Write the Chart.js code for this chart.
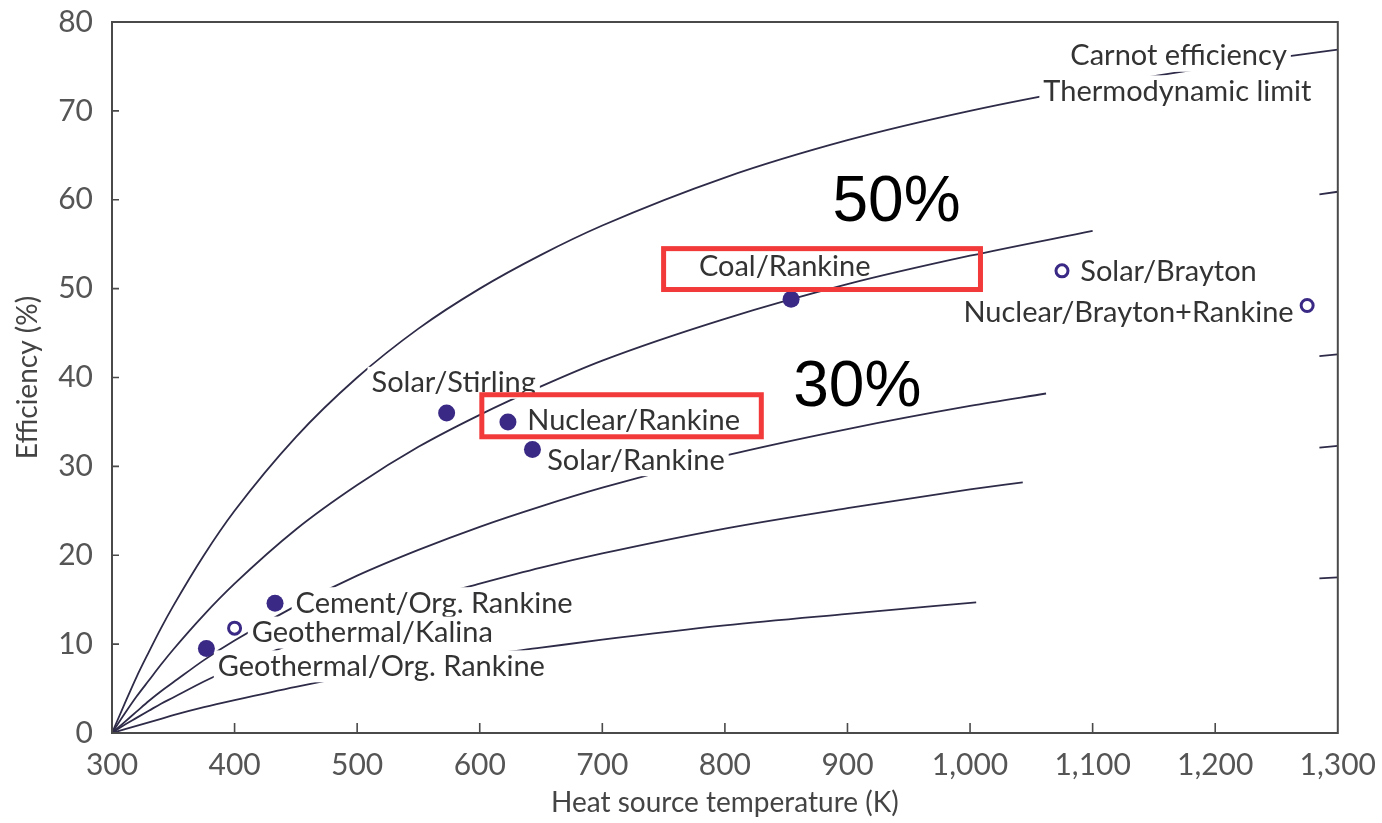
<!DOCTYPE html>
<html>
<head>
<meta charset="utf-8">
<script src="https://cdn.jsdelivr.net/npm/chart.js@4.4.1/dist/chart.umd.min.js"></script>
<style>
  html, body { margin: 0; padding: 0; background: #fff; }
  #wrap { width: 1382px; height: 823px; }
</style>
</head>
<body>
<div id="wrap"><canvas id="efficiencyChart" width="1382" height="823"></canvas></div>
<script>
// Conversion efficiency vs heat source temperature (sink at 300 K)

// Carnot efficiency curve
const carnotTemp = [300, 310, 320, 330, 340, 350, 375, 400, 450, 500, 550, 600, 650, 700, 800, 900, 1000, 1100, 1200, 1300]
const carnotEff = [0, 3.2, 6.3, 9.1, 11.8, 14.3, 20.0, 25.0, 33.3, 40.0, 45.5, 50.0, 53.8, 57.1, 62.5, 66.7, 70.0, 72.7, 75.0, 76.9]

// lower curves (each one stops before the right frame)
const upperTemp = [300, 310, 320, 330, 340, 350, 375, 400, 450, 500, 550, 600, 650, 700, 800, 900, 1000, 1100]
const upperEff = [0, 2.1, 4.1, 5.9, 7.7, 9.4, 13.3, 16.8, 22.9, 27.9, 32.2, 35.8, 39.0, 41.9, 46.6, 50.5, 53.7, 56.5]
const midTemp = [300, 310, 320, 330, 340, 350, 375, 400, 450, 500, 550, 600, 650, 700, 800, 900, 1000, 1062]
const midEff = [0, 1.2, 2.4, 3.6, 4.7, 5.7, 8.2, 10.4, 14.3, 17.7, 20.6, 23.2, 25.5, 27.6, 31.2, 34.2, 36.8, 38.2]
const lowTemp = [300, 310, 320, 330, 340, 350, 375, 400, 450, 500, 550, 600, 650, 700, 800, 900, 1000, 1043]
const lowEff = [0, 0.9, 1.7, 2.5, 3.3, 4.0, 5.8, 7.4, 10.2, 12.7, 14.9, 16.8, 18.6, 20.2, 23.0, 25.3, 27.4, 28.2]
const bottomTemp = [300, 310, 320, 330, 340, 350, 375, 400, 450, 500, 550, 600, 650, 700, 800, 900, 1005]
const bottomEff = [0, 0.4, 0.8, 1.2, 1.6, 2.0, 2.9, 3.7, 5.2, 6.5, 7.6, 8.7, 9.6, 10.5, 12.1, 13.4, 14.7]

// short pieces of the same curves where they meet the right frame
const edgeTemp = [1285, 1300]
const upperEdge = [60.6, 60.9]
const midEdge = [42.4, 42.6]
const lowEdge = [32.1, 32.3]
const bottomEdge = [17.4, 17.5]

// plants
const plantNames = ['Geothermal/Org. Rankine', 'Geothermal/Kalina', 'Cement/Org. Rankine', 'Solar/Stirling', 'Nuclear/Rankine', 'Solar/Rankine', 'Coal/Rankine', 'Solar/Brayton', 'Nuclear/Brayton+Rankine']
const plantTemp = [377, 400, 433, 573, 623, 643, 854, 1075, 1275]
const plantEff = [9.5, 11.8, 14.6, 36.0, 35.0, 31.9, 48.8, 52.0, 48.1]
const plantOpen = [false, true, false, false, false, false, false, true, true]

const xTicks = [300, 400, 500, 600, 700, 800, 900, 1000, 1100, 1200, 1300]
const yTicks = [0, 10, 20, 30, 40, 50, 60, 70, 80]

const purple = '#3b2a85'
const curveColor = '#2e2b48'

// text labels (data coords: left edge of text, vertical middle)
const curveLabels = [
  { text: 'Carnot efficiency', x: 1081.8, y: 76.2 },
  { text: 'Thermodynamic limit', x: 1059.8, y: 72.2 },
  { text: 'Coal/Rankine', x: 778.8, y: 52.5, noClear: true },
  { text: 'Solar/Brayton', x: 1089.9, y: 51.9 },
  { text: 'Nuclear/Brayton+Rankine', x: 994.6, y: 47.3 },
  { text: 'Solar/Stirling', x: 511.7, y: 39.4 },
  { text: 'Nuclear/Rankine', x: 638.8, y: 35.1 },
  { text: 'Solar/Rankine', x: 655.0, y: 30.7 },
  { text: 'Cement/Org. Rankine', x: 449.8, y: 14.6 },
  { text: 'Geothermal/Kalina', x: 414.0, y: 11.3 },
  { text: 'Geothermal/Org. Rankine', x: 386.3, y: 7.5 }
]

// red markup added on top of the figure
const notes = [
  { text: '50%', x: 940, y: 59.6 },
  { text: '30%', x: 908, y: 38.8 }
]
const noteBoxes = [
  { x0: 750, x1: 1008.5, y0: 54.5, y1: 49.9 },
  { x0: 601.7, x1: 829.7, y0: 38.06, y1: 33.33 }
]

function toPoints (temps, effs) {
  return temps.map((t, i) => ({ x: t, y: effs[i] }))
}

function withEdge (temps, effs, edge) {
  return toPoints(temps, effs).concat([{ x: 1200, y: null }], toPoints(edgeTemp, edge))
}

function curve (data) {
  return {
    data: data,
    showLine: true,
    borderColor: curveColor,
    borderWidth: 1.8,
    pointRadius: 0,
    cubicInterpolationMode: 'monotone',
    spanGaps: false,
    fill: false
  }
}

const labelFont = '29px Lato'

const decorations = {
  id: 'decorations',
  beforeDatasetDraw (chart, args) {
    // labels go under the plant markers but over the curves
    if (args.index !== 0) return
    const { ctx, scales: { x, y } } = chart
    ctx.save()
    ctx.font = labelFont
    ctx.textBaseline = 'middle'
    ctx.textAlign = 'left'
    curveLabels.forEach(l => {
      const px = x.getPixelForValue(l.x)
      const py = y.getPixelForValue(l.y)
      const w = ctx.measureText(l.text).width
      if (!l.noClear) {
        ctx.fillStyle = '#fff'
        ctx.fillRect(px - 4, py - 16, w + 8, 32)
      }
      ctx.fillStyle = '#333'
      ctx.fillText(l.text, px, py)
    })
    ctx.restore()
  },
  afterDraw (chart) {
    const { ctx, chartArea: a, scales: { x, y } } = chart
    ctx.save()
    ctx.strokeStyle = '#4a4a4a'
    ctx.lineWidth = 2
    ctx.strokeRect(a.left, a.top, a.right - a.left, a.bottom - a.top)
    ctx.lineWidth = 1.6
    ctx.beginPath()
    xTicks.slice(1, -1).forEach(v => {
      const px = x.getPixelForValue(v)
      ctx.moveTo(px, a.bottom)
      ctx.lineTo(px, a.bottom - 10)
    })
    yTicks.slice(1, -1).forEach(v => {
      const py = y.getPixelForValue(v)
      ctx.moveTo(a.left, py)
      ctx.lineTo(a.left + 7, py)
    })
    ctx.stroke()

    ctx.strokeStyle = '#f23a3a'
    ctx.lineWidth = 5
    noteBoxes.forEach(b => {
      const x0 = x.getPixelForValue(b.x0)
      const x1 = x.getPixelForValue(b.x1)
      const y0 = y.getPixelForValue(b.y0)
      const y1 = y.getPixelForValue(b.y1)
      ctx.strokeRect(x0, y0, x1 - x0, y1 - y0)
    })
    ctx.fillStyle = '#000'
    ctx.font = '64px "Liberation Sans"'
    ctx.textAlign = 'center'
    ctx.textBaseline = 'middle'
    notes.forEach(n => {
      ctx.fillText(n.text, x.getPixelForValue(n.x), y.getPixelForValue(n.y))
    })
    ctx.restore()
  }
}

const plantData = plantTemp.map((t, i) => ({ x: t, y: plantEff[i], name: plantNames[i] }))

new Chart(document.getElementById('efficiencyChart'), {
  type: 'scatter',
  data: {
    datasets: [
      {
        label: 'Plants',
        data: plantData,
        pointRadius: c => plantOpen[c.dataIndex] ? 6 : 8.5,
        pointBackgroundColor: c => plantOpen[c.dataIndex] ? '#fff' : purple,
        pointBorderColor: purple,
        pointBorderWidth: c => plantOpen[c.dataIndex] ? 3 : 0,
        showLine: false
      },
      curve(toPoints(carnotTemp, carnotEff)),
      curve(withEdge(upperTemp, upperEff, upperEdge)),
      curve(withEdge(midTemp, midEff, midEdge)),
      curve(withEdge(lowTemp, lowEff, lowEdge)),
      curve(withEdge(bottomTemp, bottomEff, bottomEdge))
    ]
  },
  options: {
    responsive: false,
    animation: false,
    devicePixelRatio: 1,
    layout: { padding: { left: 0, top: 22, right: 42, bottom: 0 } },
    plugins: { legend: { display: false }, tooltip: { enabled: false } },
    scales: {
      x: {
        type: 'linear',
        min: 300,
        max: 1300,
        afterBuildTicks: s => { s.ticks = xTicks.map(v => ({ value: v })) },
        afterFit: s => { s.height = 90 },
        grid: { display: false },
        border: { display: false },
        ticks: {
          padding: 6,
          color: '#555',
          font: { family: 'Lato', size: 30 },
          maxRotation: 0,
          callback: v => v.toLocaleString('en-US')
        },
        title: {
          display: true,
          text: 'Heat source temperature (K)',
          color: '#444',
          font: { family: 'Lato', size: 28 },
          padding: { top: 0, bottom: 3 }
        }
      },
      y: {
        min: 0,
        max: 80,
        afterBuildTicks: s => { s.ticks = yTicks.map(v => ({ value: v })) },
        afterFit: s => {
          s.width = 112
          s.paddingTop = 0
          s.paddingBottom = 0
        },
        grid: { display: false },
        border: { display: false },
        ticks: {
          padding: 11,
          color: '#555',
          font: { family: 'Lato', size: 30, lineHeight: 0.8 }
        },
        title: {
          display: true,
          text: 'Efficiency (%)',
          color: '#444',
          font: { family: 'Lato', size: 28 },
          padding: { top: 11, bottom: 0 }
        }
      }
    }
  },
  plugins: [decorations]
})
</script>
</body>
</html>
